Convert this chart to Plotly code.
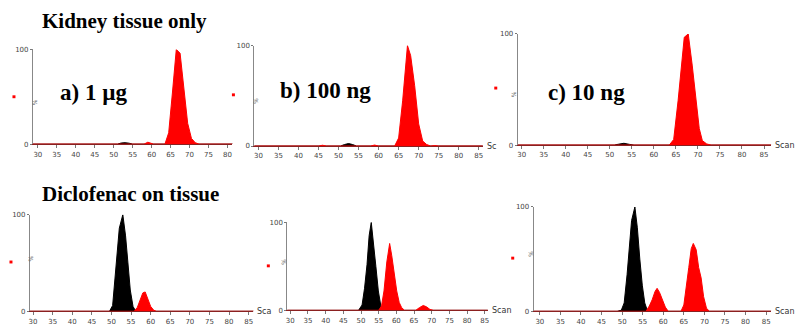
import plotly.graph_objects as go

# ---------------- data (scan number, % intensity) ----------------
# a) 1 ug, kidney tissue only
A_BLACK_SCAN = [28, 44, 45, 46, 51, 52, 53, 54, 55, 83]
A_BLACK_PCT = [0, 0, 0.6, 0, 0, 1.2, 1.5, 1.0, 0, 0]
A_RED_SCAN = [28, 58, 59, 60.5, 63.5, 64.5, 65.5, 66.5, 67.5, 68.5, 69.5, 70.5, 71.5, 72.5, 83]
A_RED_PCT = [0, 0, 2, 0, 0, 12, 55, 100, 96, 55, 22, 6, 1.5, 0, 0]

# b) 100 ng, kidney tissue only
B_BLACK_SCAN = [28, 50.5, 51.5, 52.5, 53.5, 54.5, 87]
B_BLACK_PCT = [0, 0, 1.5, 2.5, 1.5, 0, 0]
B_RED_SCAN = [28, 45, 46, 47, 58, 59, 60, 64, 65, 66, 67.2, 68, 69, 70, 71, 72, 73, 74, 75, 87]
B_RED_PCT = [0, 0, 0.8, 0, 0, 1, 0, 0, 8, 45, 100, 90, 60, 22, 5, 1.5, 0, 0.5, 0, 0]

# c) 10 ng, kidney tissue only
C_BLACK_SCAN = [28, 51, 52, 53.2, 54.5, 55.5, 87]
C_BLACK_PCT = [0, 0, 0.8, 1.6, 0.6, 0, 0]
C_RED_SCAN = [28, 57.3, 58, 58.7, 61.5, 62.3, 63, 63.5, 64.5, 65.5, 66.9, 67.8, 68.7, 69.5, 70.3, 71, 72, 73, 87]
C_RED_PCT = [0, 0, 0.5, 0, 0, 0.5, 0, 0, 5, 40, 97, 100, 72, 45, 15, 4, 1, 0, 0]

# d) diclofenac on tissue, 1 ug
D_BLACK_SCAN = [28, 49.5, 50.3, 51, 52, 52.9, 53.6, 54.2, 54.8, 55.5, 56.2, 87]
D_BLACK_PCT = [0, 0, 6, 38, 86, 100, 78, 50, 22, 5, 0, 0]
D_RED_SCAN = [28, 55.8, 56.6, 57.2, 58, 58.6, 59.3, 60, 60.8, 61.5, 87]
D_RED_PCT = [0, 0, 4, 11, 19, 20, 13, 5, 1, 0, 0]

# e) diclofenac on tissue, 100 ng
E_BLACK_SCAN = [28, 49.3, 50.3, 51, 51.7, 52.3, 52.9, 53.5, 54.2, 54.9, 55.6, 56.2, 87]
E_BLACK_PCT = [0, 0, 6, 25, 52, 85, 100, 80, 50, 22, 5, 0, 0]
E_RED_SCAN = [28, 55, 55.8, 56.5, 57.3, 58.1, 58.7, 59.4, 60.1, 60.8, 61.5, 62.3,
              65.5, 66.5, 67.6, 68.5, 69.5, 70.5, 87]
E_RED_PCT = [0, 0, 5, 22, 55, 76, 62, 42, 22, 9, 3, 0,
             0, 3, 5.5, 4, 1, 0, 0]

# f) diclofenac on tissue, 10 ng
F_BLACK_SCAN = [28, 48.8, 49.8, 50.5, 51.2, 51.8, 52.3, 53.1, 53.7, 54.3, 54.9, 55.5, 56.2, 87]
F_BLACK_PCT = [0, 0, 1, 8, 35, 65, 87, 100, 80, 50, 25, 8, 0, 0]
F_RED_SCAN = [28, 55.8, 56.6, 57.3, 58, 58.5, 59.1, 59.8, 60.5, 61.2,
              64.3, 65, 65.6, 66.2, 66.8, 67.3, 68, 68.6, 69.2, 69.8, 70.5, 71.2, 87]
F_RED_PCT = [0, 0, 5, 11, 19, 22, 18, 11, 4, 0,
             0, 6, 22, 42, 60, 65, 59, 42, 32, 14, 3, 0, 0]

TICKS_A = [30, 35, 40, 45, 50, 55, 60, 65, 70, 75, 80]
TICKS_FULL = [30, 35, 40, 45, 50, 55, 60, 65, 70, 75, 80, 85]
Y_TICKS = [0, 100]

TITLE_TOP = "Kidney tissue only"
TITLE_BOTTOM = "Diclofenac on tissue"
LABELS = ["a) 1 µg", "b) 100 ng", "c) 10 ng"]

# ---------------- layout geometry (pixels) ----------------
W, H = 800, 326

def px(x):
    return x / W

def py(y):
    return 1 - y / H

panels = [
    dict(bs=A_BLACK_SCAN, bp=A_BLACK_PCT, rs=A_RED_SCAN, rp=A_RED_PCT,
         l=32, r=232, b=145, t=47, xr=[28.7, 81.3], ticks=TICKS_A, title=None, dot=(13, 96)),
    dict(bs=B_BLACK_SCAN, bp=B_BLACK_PCT, rs=B_RED_SCAN, rp=B_RED_PCT,
         l=254, r=483, b=147, t=43, xr=[29.0, 86.0], ticks=TICKS_FULL, title="Sc", dot=(233, 94)),
    dict(bs=C_BLACK_SCAN, bp=C_BLACK_PCT, rs=C_RED_SCAN, rp=C_RED_PCT,
         l=518, r=772, b=146, t=31, xr=[29.1, 86.6], ticks=TICKS_FULL, title="Scan", dot=(496, 87)),
    dict(bs=D_BLACK_SCAN, bp=D_BLACK_PCT, rs=D_RED_SCAN, rp=D_RED_PCT,
         l=29, r=253, b=318, t=218, xr=[29.2, 86.2], ticks=TICKS_FULL, title="Sca", dot=(10, 267)),
    dict(bs=E_BLACK_SCAN, bp=E_BLACK_PCT, rs=E_RED_SCAN, rp=E_RED_PCT,
         l=287, r=488, b=317, t=226, xr=[29.15, 85.85], ticks=TICKS_FULL, title="Scan", dot=(268, 271)),
    dict(bs=F_BLACK_SCAN, bp=F_BLACK_PCT, rs=F_RED_SCAN, rp=F_RED_PCT,
         l=534, r=772, b=318, t=210, xr=[28.5, 86.2], ticks=TICKS_FULL, title="Scan", dot=(513, 263)),
]

fig = go.Figure()
annotations = []
shapes = []
tick_font = dict(family="DejaVu Sans", size=7, color="#444444")

for i, p in enumerate(panels):
    n = "" if i == 0 else str(i + 1)
    xa, ya = "x" + n, "y" + n
    fig.add_trace(go.Scatter(x=p["bs"], y=p["bp"], xaxis=xa, yaxis=ya, mode="lines",
                             line=dict(color="black", width=1), fill="tozeroy",
                             fillcolor="black", hoverinfo="skip", showlegend=False))
    fig.add_trace(go.Scatter(x=p["rs"], y=p["rp"], xaxis=xa, yaxis=ya, mode="lines",
                             line=dict(color="#ff0000", width=1), fill="tozeroy",
                             fillcolor="#ff0000", hoverinfo="skip", showlegend=False))
    fig.layout["xaxis" + n] = dict(
        domain=[px(p["l"]), px(p["r"])], range=p["xr"], anchor=ya,
        tickmode="array", tickvals=p["ticks"], ticks="outside", ticklen=3,
        tickcolor="#777777", tickfont=tick_font, showline=True, linecolor="#8b2020",
        linewidth=1, showgrid=False, zeroline=False, fixedrange=True)
    fig.layout["yaxis" + n] = dict(
        domain=[py(p["b"]), py(p["t"])], range=[0, 100], anchor=xa,
        tickmode="array", tickvals=Y_TICKS, ticks="outside", ticklen=2,
        tickcolor="#777777", tickfont=tick_font, showline=True, linecolor="#888888",
        linewidth=1, showgrid=False, zeroline=False, fixedrange=True)
    annotations.append(dict(x=px(p["l"] - 4), y=py((p["b"] + p["t"]) / 2), xref="paper",
                            yref="paper", text="%", textangle=-90, showarrow=False,
                            font=dict(family="DejaVu Sans", size=6, color="#666666")))
    if p["title"]:
        annotations.append(dict(x=px(p["r"] + 2), y=py(p["b"]), xref="paper", yref="paper",
                                text=p["title"], showarrow=False, xanchor="left",
                                yanchor="middle",
                                font=dict(family="DejaVu Sans", size=8, color="#333333")))
    dx, dy = p["dot"]
    shapes.append(dict(type="rect", xref="paper", yref="paper",
                       x0=px(dx - 1.5), x1=px(dx + 1.5), y0=py(dy + 1.5), y1=py(dy - 1.5),
                       fillcolor="#ff0000", line=dict(width=0)))

serif_bold = dict(family="Liberation Serif", size=21, color="black")
annotations.append(dict(x=px(39), y=py(18), xref="paper", yref="paper",
                        text="<b>" + TITLE_TOP + "</b>", showarrow=False,
                        xanchor="left", yanchor="middle", font=serif_bold))
annotations.append(dict(x=px(39), y=py(197), xref="paper", yref="paper",
                        text="<b>" + TITLE_BOTTOM + "</b>", showarrow=False,
                        xanchor="left", yanchor="middle", font=serif_bold))
label_pos = [(57, 92), (278, 90), (546, 92)]
for txt, (lx, ly) in zip(LABELS, label_pos):
    annotations.append(dict(x=px(lx), y=py(ly), xref="paper", yref="paper",
                            text="<b>" + txt + "</b>", showarrow=False,
                            xanchor="left", yanchor="middle",
                            font=dict(family="Liberation Serif", size=23, color="black")))

fig.update_layout(width=W, height=H, margin=dict(l=0, r=0, t=0, b=0),
                  paper_bgcolor="white", plot_bgcolor="white",
                  annotations=annotations, shapes=shapes, showlegend=False)

fig.write_html("out.html", config={"displayModeBar": False},
               post_script="document.body.style.margin='0';document.body.style.overflow='hidden';")
